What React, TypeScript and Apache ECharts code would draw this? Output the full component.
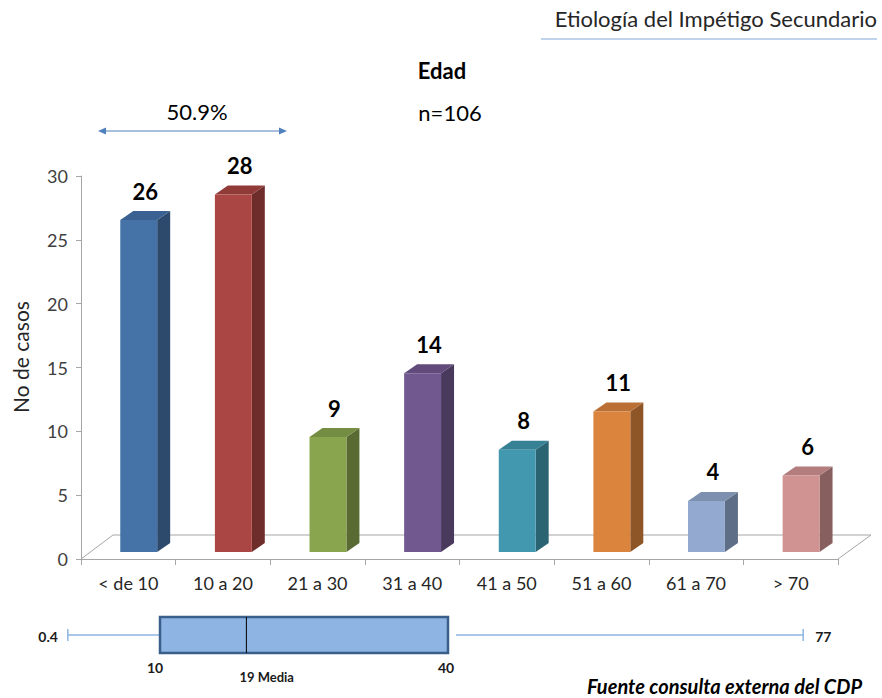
import React, { useEffect, useRef } from "react";
import * as echarts from "echarts";

const categories = ["< de 10", "10 a 20", "21 a 30", "31 a 40", "41 a 50", "51 a 60", "61 a 70", "> 70"];
const casos = [26, 28, 9, 14, 8, 11, 4, 6];
const yMin = 0;
const yMax = 30;
const yInterval = 5;
const yTitle = "No de casos";

const frontColors = ["#4572A7", "#AA4643", "#89A54E", "#71588F", "#4198AF", "#DB843D", "#93A9CF", "#D19392"];
const topColors = ["#3A6191", "#913B39", "#758D42", "#604B7A", "#378195", "#BA7034", "#7D90B0", "#B27D7C"];
const sideColors = ["#2D4A6D", "#6E2D2B", "#596B32", "#49395D", "#2A6372", "#8E5627", "#5F6E87", "#885F5F"];

// box plot: [min, Q1, median, Q3, max]
const boxStats = [0.4, 10, 19, 40, 77];
const boxCategory = ["Edad"];

const FONT = "Lato, 'Open Sans', sans-serif";

export default function App() {
  const ref = useRef<HTMLDivElement>(null);
  useEffect(() => {
    if (!ref.current) return;
    const chart = echarts.init(ref.current, undefined, { renderer: "svg" });
    const barData = casos.map((v, i) => [i, v]);

    const option: any = {
      animation: false,
      textStyle: { fontFamily: FONT },
      grid: [
        { left: 81, right: 44, top: 176, bottom: 139 },
        { left: 64, width: 768, top: 617, height: 36 },
      ],
      xAxis: [
        {
          type: "category",
          data: categories,
          gridIndex: 0,
          axisLine: { lineStyle: { color: "#A6A6A6", width: 1 } },
          axisTick: { show: true, length: 6, lineStyle: { color: "#A6A6A6" } },
          axisLabel: { fontSize: 18, color: "#262626", margin: 15, fontFamily: FONT },
        },
        { type: "value", gridIndex: 1, min: 0, max: 80, show: false },
      ],
      yAxis: [
        {
          type: "value",
          gridIndex: 0,
          min: yMin,
          max: yMax,
          interval: yInterval,
          axisLine: { show: true, lineStyle: { color: "#A6A6A6", width: 1 } },
          axisTick: { show: true, length: 5, lineStyle: { color: "#A6A6A6" } },
          axisLabel: { fontSize: 18, color: "#404040", margin: 13, fontFamily: FONT },
          splitLine: { show: false },
        },
        { type: "category", gridIndex: 1, data: boxCategory, show: false },
      ],
      graphic: [
        {
          type: "polyline",
          z: 0,
          shape: { points: [[81, 559], [113, 535], [871, 535], [838, 559]] },
          style: { stroke: "#A6A6A6", lineWidth: 1, fill: "none" },
        },
        {
          type: "text",
          x: 20,
          y: 357,
          rotation: Math.PI / 2,
          style: { text: yTitle, fontSize: 21, fill: "#262626", align: "center", verticalAlign: "middle", fontFamily: FONT },
        },
        {
          type: "text",
          right: 5,
          top: 7,
          style: { text: "Etiología del Impétigo Secundario", fontSize: 22, fill: "#262626", fontFamily: FONT },
        },
        {
          type: "line",
          shape: { x1: 541, y1: 39, x2: 877, y2: 39 },
          style: { stroke: "#7EA6D8", lineWidth: 1 },
        },
        {
          type: "text",
          x: 442,
          y: 70,
          style: { text: "Edad", fontSize: 22, fontWeight: "bold", fill: "#000", align: "center", verticalAlign: "middle", fontFamily: FONT },
        },
        {
          type: "text",
          x: 450,
          y: 112,
          style: { text: "n=106", fontSize: 22, fill: "#000", align: "center", verticalAlign: "middle", fontFamily: FONT },
        },
        {
          type: "text",
          x: 197,
          y: 111,
          style: { text: "50.9%", fontSize: 22, fill: "#000", align: "center", verticalAlign: "middle", fontFamily: FONT },
        },
        {
          type: "line",
          shape: { x1: 104, y1: 131, x2: 281, y2: 131 },
          style: { stroke: "#4F81BD", lineWidth: 1.2 },
        },
        {
          type: "polygon",
          shape: { points: [[98, 131], [106, 127.5], [106, 134.5]] },
          style: { fill: "#4F81BD" },
        },
        {
          type: "polygon",
          shape: { points: [[287, 131], [279, 127.5], [279, 134.5]] },
          style: { fill: "#4F81BD" },
        },
        {
          type: "text",
          right: 20,
          top: 676,
          style: {
            text: "Fuente consulta externa del CDP",
            fontSize: 20,
            fontStyle: "italic",
            fontWeight: "bold",
            fill: "#000",
            fontFamily: FONT,
          },
        },
      ],
      series: [
        {
          type: "custom",
          xAxisIndex: 0,
          yAxisIndex: 0,
          z: 5,
          data: barData,
          encode: { x: 0, y: 1 },
          renderItem: (params: any, api: any) => {
            const idx = api.value(0);
            const v = api.value(1);
            const base = api.coord([idx, 0]);
            const top = api.coord([idx, v]);
            const bw = api.size([1, 0])[0];
            const lift = 7;
            const dx = 13;
            const dy = 9;
            const x0 = base[0] - 0.085 * bw;
            const x1 = x0 + 0.39 * bw;
            const yb = base[1] - lift;
            const yt = top[1] - lift;
            const i = params.dataIndex;
            return {
              type: "group",
              children: [
                {
                  type: "polygon",
                  shape: { points: [[x1, yt], [x1 + dx, yt - dy], [x1 + dx, yb - dy], [x1, yb]] },
                  style: { fill: sideColors[i] },
                },
                {
                  type: "polygon",
                  shape: { points: [[x0, yt], [x0 + dx, yt - dy], [x1 + dx, yt - dy], [x1, yt]] },
                  style: { fill: topColors[i] },
                },
                {
                  type: "rect",
                  shape: { x: x0, y: yt, width: x1 - x0, height: yb - yt },
                  style: { fill: frontColors[i] },
                },
                {
                  type: "text",
                  x: (x0 + x1 + dx) / 2,
                  y: yt - 29,
                  style: {
                    text: String(v),
                    fontSize: 22,
                    fontWeight: "bold",
                    fill: "#000",
                    align: "center",
                    verticalAlign: "middle",
                    fontFamily: FONT,
                  },
                },
              ],
            };
          },
        },
        {
          type: "custom",
          xAxisIndex: 1,
          yAxisIndex: 1,
          z: 5,
          data: [[...boxStats, 0]],
          encode: { x: [0, 1, 2, 3, 4], y: 5 },
          renderItem: (params: any, api: any) => {
            const mn = api.value(0);
            const q1 = api.value(1);
            const md = api.value(2);
            const q3 = api.value(3);
            const mx = api.value(4);
            const cat = api.value(5);
            const pMin = api.coord([mn, cat]);
            const pQ1 = api.coord([q1, cat]);
            const pMd = api.coord([md, cat]);
            const pQ3 = api.coord([q3, cat]);
            const pMax = api.coord([mx, cat]);
            const h = api.size([0, 1])[1];
            const cy = pQ1[1];
            const top = cy - h / 2;
            const bot = cy + h / 2;
            const whisk = { stroke: "#8EB4E3", lineWidth: 1.5 };
            const lbl = (text: string, x: number, y: number, align: string, size: number) => ({
              type: "text",
              x,
              y,
              style: { text, fontSize: size, fontWeight: "bold", fill: "#1A1A1A", align, verticalAlign: "middle", fontFamily: FONT },
            });
            return {
              type: "group",
              children: [
                { type: "line", shape: { x1: pMin[0], y1: cy, x2: pQ1[0], y2: cy }, style: whisk },
                { type: "line", shape: { x1: pQ3[0] + 8, y1: cy, x2: pMax[0], y2: cy }, style: whisk },
                { type: "line", shape: { x1: pMin[0], y1: cy - 6, x2: pMin[0], y2: cy + 6 }, style: whisk },
                { type: "line", shape: { x1: pMax[0], y1: cy - 6, x2: pMax[0], y2: cy + 6 }, style: whisk },
                {
                  type: "rect",
                  shape: { x: pQ1[0], y: top, width: pQ3[0] - pQ1[0], height: h },
                  style: { fill: "#8DB4E2", stroke: "#3A5F8B", lineWidth: 2.5 },
                },
                { type: "line", shape: { x1: pMd[0], y1: top, x2: pMd[0], y2: bot }, style: { stroke: "#000", lineWidth: 1 } },
                lbl(String(mn), pMin[0] - 10, cy + 1, "right", 14),
                lbl(String(mx), pMax[0] + 12, cy + 1, "left", 14),
                lbl(String(q1), pQ1[0] - 5, bot + 14, "center", 14),
                lbl(String(q3), pQ3[0] - 2, bot + 14, "center", 14),
                lbl(String(md) + " Media", pMd[0] - 7, bot + 24, "left", 13),
              ],
            };
          },
        },
      ],
    };
    chart.setOption(option);
    return () => chart.dispose();
  }, []);
  return <div ref={ref} style={{ position: "absolute", left: 0, top: 0, width: 882, height: 698 }} />;
}
